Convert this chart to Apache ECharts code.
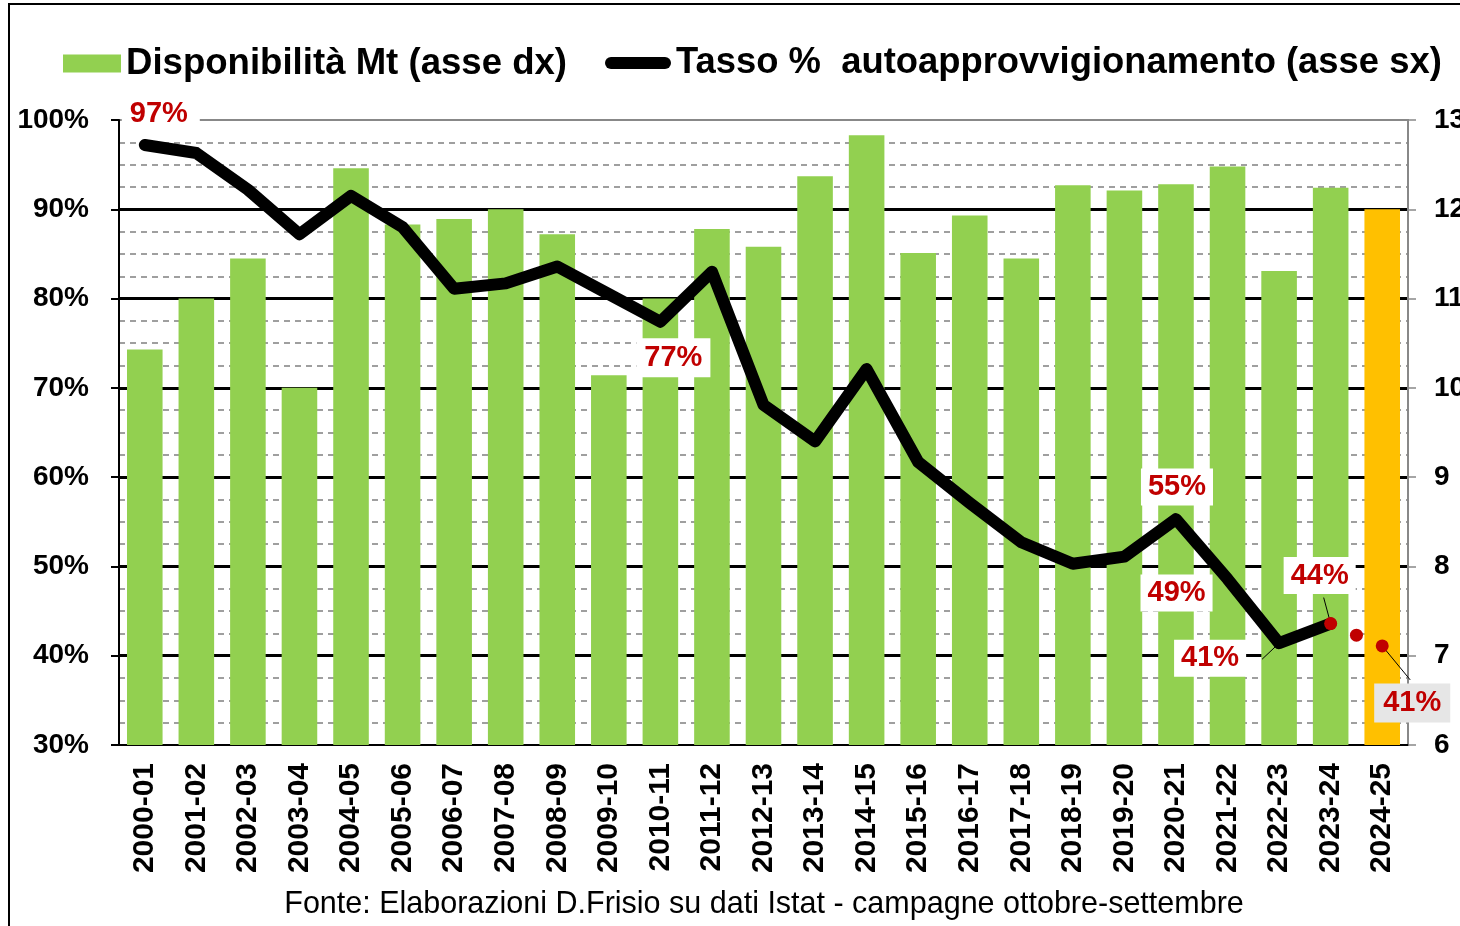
<!DOCTYPE html>
<html>
<head>
    <meta charset="utf-8" />
    <title>Autoapprovvigionamento</title>
    <script src="https://cdn.jsdelivr.net/npm/echarts@6/dist/echarts.min.js"></script>
    <style>
        html, body { margin: 0; padding: 0; background: #fff; overflow: hidden; }
    </style>
</head>
<body>
    <div id="main" style="width: 1460px;height:926px;"></div>

    <script type="text/javascript">
        // campagne ottobre-settembre
        var categories = ['2000-01', '2001-02', '2002-03', '2003-04', '2004-05', '2005-06', '2006-07',
            '2007-08', '2008-09', '2009-10', '2010-11', '2011-12', '2012-13', '2013-14', '2014-15',
            '2015-16', '2016-17', '2017-18', '2018-19', '2019-20', '2020-21', '2021-22', '2022-23',
            '2023-24', '2024-25'];

        // Disponibilità, milioni di tonnellate (asse dx)
        var disponibilita = [10.43, 11.0, 11.45, 10.0, 12.46, 11.83, 11.89, 12.0, 11.72, 10.14, 11.0, 11.78,
            11.58, 12.37, 12.83, 11.51, 11.93, 11.45, 12.27, 12.21, 12.28, 12.48, 11.31, 12.24, 12.0];

        // Tasso % di autoapprovvigionamento (asse sx)
        var tasso = [97.2, 96.3, 92.2, 87.2, 91.5, 88.0, 81.1, 81.7, 83.6, 80.5, 77.4, 83.0, 68.1, 64.0,
            72.1, 61.7, 57.1, 52.7, 50.3, 51.1, 55.3, 48.6, 41.4, 43.6, null];

        // punti stimati 2024-25 (x = posizione sull'asse delle campagne)
        var stime = [[23.5, 42.3], [24, 41.1]];

        // campagne con etichetta
        var etichette = [0, 10, 20, 21, 22, 23];

        var pctTicks = { min: 30, max: 100, interval: 10 };
        var mtTicks = { min: 6, max: 13, interval: 1 };

        var FONT = 'Liberation Sans, Arial, sans-serif';
        var RED = '#c00000';

        // stile delle etichette: spostamento del testo, linea guida, pallino
        var stili = [
            { d: [16, -31], pad: [5, 12, 3, 8] },
            { d: [13, 36], pad: [6, 8, 4, 8] },
            { d: [1, -32] },
            { d: [-51, 14] },
            { d: [-69, 15], guida: [-17, 16] },
            { d: [-11, -48], guida: [-7, -26], dot: true },
            { dot: true, noText: true },
            { d: [30, 57], guida: [28, 34], dot: true, bg: '#e6e6e6', pad: [6, 9, 4, 9] }
        ];

        var punti = etichette.map(function (i) { return [i, tasso[i]]; }).concat(stime);

        var barData = disponibilita.map(function (v, i) {
            if (i === categories.length - 1) return { value: v, itemStyle: { color: '#ffc000' } };
            return v;
        });

        function renderEtichetta(params, api) {
            var pt = api.coord([api.value(0), api.value(1)]);
            var st = stili[params.dataIndex];
            var children = [];
            if (st.guida) {
                children.push({
                    type: 'line',
                    shape: { x1: pt[0], y1: pt[1], x2: pt[0] + st.guida[0], y2: pt[1] + st.guida[1] },
                    style: { stroke: '#000', lineWidth: 1 }
                });
            }
            if (st.dot) {
                children.push({
                    type: 'circle',
                    shape: { cx: pt[0], cy: pt[1], r: 6.5 },
                    style: { fill: RED }
                });
            }
            if (!st.noText) {
                children.push({
                    type: 'text',
                    x: pt[0] + st.d[0],
                    y: pt[1] + st.d[1],
                    style: {
                        text: Math.round(api.value(1)) + '%',
                        fill: RED,
                        font: 'bold 29px ' + FONT,
                        align: 'center',
                        verticalAlign: 'middle',
                        backgroundColor: st.bg || '#fff',
                        padding: st.pad || [5, 7, 3, 7]
                    }
                });
            }
            return { type: 'group', children: children };
        }

        var myChart = echarts.init(document.getElementById('main'));

        var option = {
            animation: false,
            backgroundColor: '#fff',
            textStyle: { fontFamily: FONT },
            legend: [
                {
                    data: ['Disponibilità Mt (asse dx)'],
                    left: 58, top: 40,
                    itemWidth: 58, itemHeight: 18,
                    icon: 'rect',
                    textStyle: { fontSize: 36.6, fontWeight: 'bold', color: '#000', fontFamily: FONT }
                },
                {
                    data: ['Tasso %  autoapprovvigionamento (asse sx)'],
                    left: 600, top: 40,
                    itemWidth: 66, itemHeight: 12,
                    icon: 'path://M6,0 L60,0 A6,6 0 0 1 60,12 L6,12 A6,6 0 0 1 6,0 Z',
                    textStyle: { fontSize: 36.4, fontWeight: 'bold', color: '#000', fontFamily: FONT }
                }
            ],
            grid: {
                left: 119, right: 52, top: 120, bottom: 181,
                outerBoundsMode: 'none',
                containLabel: false,
                show: true, borderColor: '#888', borderWidth: 2
            },
            xAxis: [
                {
                    type: 'category',
                    data: categories,
                    axisLine: { onZero: false, lineStyle: { color: '#000', width: 2 } },
                    axisTick: { length: 10, lineStyle: { color: '#000', width: 2 } },
                    axisLabel: {
                        rotate: 90, interval: 0, margin: 18,
                        fontSize: 30, fontWeight: 'bold', color: '#000', fontFamily: FONT
                    }
                },
                { type: 'value', min: -0.5, max: 24.5, show: false }
            ],
            yAxis: [
                {
                    type: 'value',
                    min: pctTicks.min, max: pctTicks.max, interval: pctTicks.interval,
                    axisLine: { show: true, onZero: false, lineStyle: { color: '#000', width: 2 } },
                    axisTick: { show: true, length: 8, lineStyle: { color: '#000', width: 2 } },
                    axisLabel: {
                        formatter: '{value}%', margin: 30,
                        fontSize: 28, fontWeight: 'bold', color: '#000', fontFamily: FONT
                    },
                    splitLine: { show: true, showMinLine: false, showMaxLine: false, lineStyle: { color: '#000', width: 3 } },
                    minorTick: { show: false, splitNumber: 4 },
                    minorSplitLine: { show: true, lineStyle: { color: '#808080', width: 1.5, type: [6, 5] } }
                },
                {
                    type: 'value',
                    min: mtTicks.min, max: mtTicks.max, interval: mtTicks.interval,
                    axisLine: { show: true, onZero: false, lineStyle: { color: '#888', width: 2 } },
                    axisTick: { show: true, length: 8, lineStyle: { color: '#888', width: 1.5 } },
                    axisLabel: {
                        margin: 26,
                        fontSize: 28, fontWeight: 'bold', color: '#000', fontFamily: FONT
                    },
                    splitLine: { show: false }
                }
            ],
            series: [
                {
                    name: 'Disponibilità Mt (asse dx)',
                    type: 'bar',
                    yAxisIndex: 1,
                    barWidth: '69%',
                    itemStyle: { color: '#92d050' },
                    data: barData
                },
                {
                    name: 'Tasso %  autoapprovvigionamento (asse sx)',
                    type: 'line',
                    yAxisIndex: 0,
                    symbol: 'none',
                    z: 3,
                    itemStyle: { color: '#000' },
                    lineStyle: { color: '#000', width: 12, cap: 'round', join: 'round' },
                    data: tasso
                },
                {
                    type: 'custom',
                    xAxisIndex: 1,
                    yAxisIndex: 0,
                    z: 5,
                    clip: false,
                    encode: { x: 0, y: 1 },
                    renderItem: renderEtichetta,
                    data: punti
                }
            ],
            graphic: [
                {
                    type: 'rect',
                    shape: { x: 9, y: 4, width: 1600, height: 1100 },
                    style: { fill: 'none', stroke: '#000', lineWidth: 2 },
                    silent: true
                },
                {
                    type: 'text',
                    x: 764, y: 905,
                    style: {
                        text: 'Fonte: Elaborazioni D.Frisio su dati Istat - campagne ottobre-settembre',
                        fontSize: 30.5, fontFamily: FONT, fill: '#000',
                        textAlign: 'center', textVerticalAlign: 'middle'
                    }
                }
            ]
        };

        myChart.setOption(option);
    </script>
</body>
</html>
